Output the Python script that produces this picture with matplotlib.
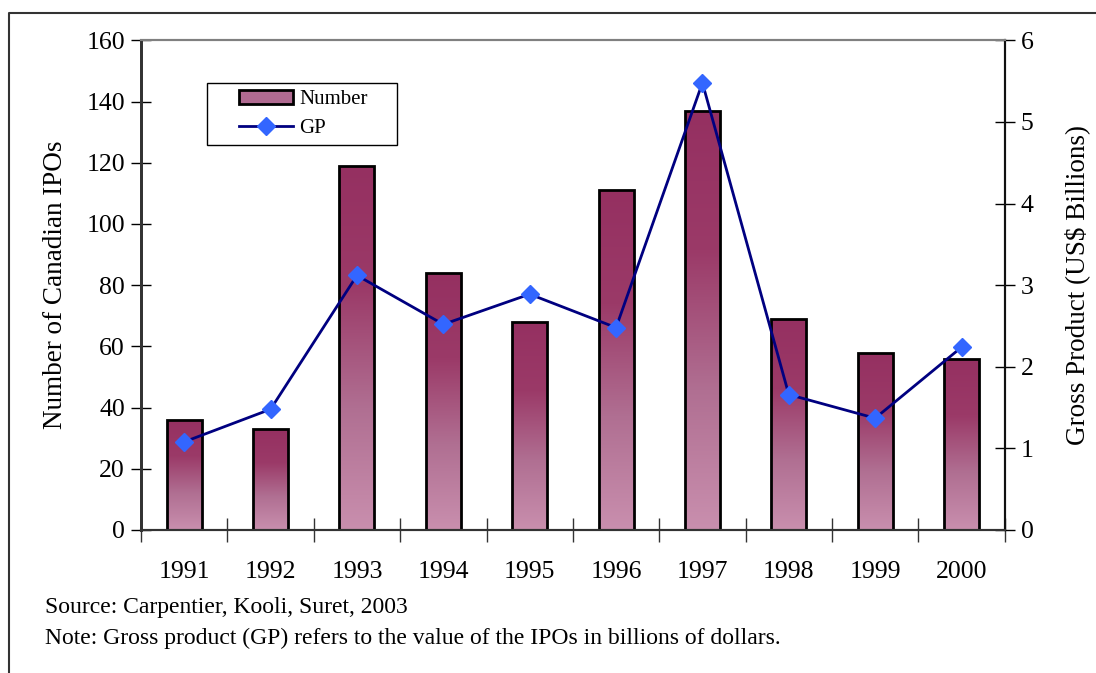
import numpy as np
import matplotlib.pyplot as plt
from matplotlib.colors import LinearSegmentedColormap
from matplotlib.patches import Patch, Rectangle
from matplotlib.lines import Line2D

# data
years = ["1991", "1992", "1993", "1994", "1995", "1996", "1997", "1998", "1999", "2000"]
ipo_count = [36, 33, 119, 84, 68, 111, 137, 69, 58, 56]
gross_product = [1.08, 1.48, 3.12, 2.52, 2.89, 2.48, 5.48, 1.66, 1.37, 2.24]

plt.rcParams['font.family'] = ['Liberation Serif', 'DejaVu Serif']

fig = plt.figure(figsize=(10.96, 6.73), dpi=100)
ax = fig.add_axes([0.1287, 0.2125, 0.788, 0.7275])
ax2 = ax.twinx()

x = np.arange(len(years))
bars = ax.bar(x, ipo_count, width=0.405, facecolor="none", edgecolor="black", linewidth=2, zorder=3)

# vertical gradient fill for each bar (dark top, light bottom)
cmap = LinearSegmentedColormap.from_list("bar", ["#c98fae", "#b06f92", "#9b3a68", "#953061"])
grad = np.linspace(0, 1, 256).reshape(-1, 1)
for b in bars:
    x0, y0 = b.get_x(), b.get_y()
    w, h = b.get_width(), b.get_height()
    im = ax.imshow(grad, cmap=cmap, aspect="auto", origin="lower",
                   extent=[x0, x0 + w, y0, y0 + h], zorder=2)
    im.set_clip_path(b)

ax.set_xlim(-0.5, len(years) - 0.5)
ax.set_ylim(0, 160)
ax.set_yticks(np.arange(0, 161, 20))
ax.set_xticks(np.arange(-0.5, len(years), 1))
ax.set_xticklabels([])
ax.set_xticks(x, minor=True)
ax.set_xticklabels(years, minor=True)
ax.tick_params(axis="x", which="major", direction="inout", length=17, width=1, color="#333333")
ax.tick_params(axis="x", which="minor", length=0, pad=22, labelsize=18.5)
ax.tick_params(axis="y", direction="inout", length=15, width=1, labelsize=18.5, pad=4)
ax.set_ylabel("Number of Canadian IPOs", fontsize=19.5, labelpad=13)

ax2.plot(x, gross_product, color="#000080", linewidth=2, marker="D", markersize=9,
         markerfacecolor="#3366ff", markeredgecolor="#3366ff", zorder=5)
ax2.set_ylim(0, 6)
ax2.set_yticks(np.arange(0, 7, 1))
ax2.tick_params(axis="y", direction="inout", length=15, width=1, labelsize=18.5, pad=4)
ax2.set_ylabel("Gross Product (US\\$ Billions)", fontsize=19.5, labelpad=22)

for a in (ax, ax2):
    a.spines["top"].set_color("#808080")
    a.spines["top"].set_linewidth(1.5)
    a.spines["left"].set_color("#333333")
    a.spines["left"].set_linewidth(2)
    a.spines["right"].set_color("#111111")
    a.spines["right"].set_linewidth(1.5)
    a.spines["bottom"].set_color("#333333")
    a.spines["bottom"].set_linewidth(1.5)

# legend without its own frame, with a separate box around it
handles = [Patch(facecolor="#b06a91", edgecolor="black", linewidth=2),
           Line2D([], [], color="#000080", linewidth=2, marker="D", markersize=9,
                  markerfacecolor="#3366ff", markeredgecolor="#3366ff")]
leg = ax2.legend(handles, ["Number", "GP"], loc="center",
                 bbox_to_anchor=(303 / 1096, 1 - 114 / 673), bbox_transform=fig.transFigure,
                 fontsize=15, frameon=False, borderpad=0,
                 handlelength=2.6, handletextpad=0.3, labelspacing=0.45, borderaxespad=0)
fig.add_artist(Rectangle((207 / 1096, 1 - 145 / 673), 190 / 1096, 62 / 673,
                         transform=fig.transFigure, facecolor="none",
                         edgecolor="black", linewidth=1, zorder=10))

fig.text(45 / 1096, 1 - 607 / 673, "Source: Carpentier, Kooli, Suret, 2003", fontsize=17, va="center")
fig.text(45 / 1096, 1 - 638 / 673,
         "Note: Gross product (GP) refers to the value of the IPOs in billions of dollars.",
         fontsize=17, va="center")

# outer frame (top and left edges)
fig.add_artist(Line2D([9 / 1096, 9 / 1096, 1.0], [0.0, 1 - 13 / 673, 1 - 13 / 673],
                      color="#333333", linewidth=1.5, transform=fig.transFigure))

fig.savefig("out.png", dpi=100)
